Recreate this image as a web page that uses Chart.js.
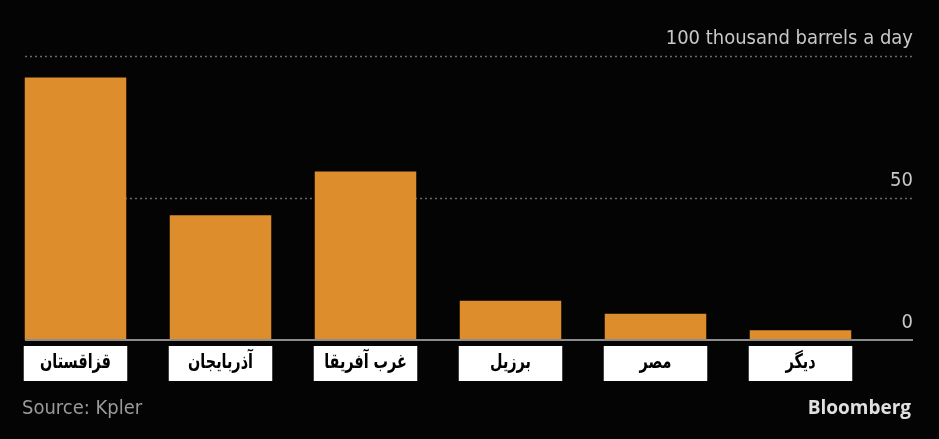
<!DOCTYPE html>
<html>
<head>
<meta charset="utf-8">
<script src="https://cdn.jsdelivr.net/npm/chart.js@4"></script>
<style>
  html, body { margin: 0; padding: 0; background: #040404; }
  canvas { display: block; }
</style>
</head>
<body>
<canvas id="chart" width="939" height="439"></canvas>
<script>
const categories = ['قزاقستان', 'آذربایجان', 'غرب آفریقا', 'برزیل', 'مصر', 'دیگر'];
const barrels = [92.4, 43.9, 59.3, 13.8, 9.2, 3.4];
const yTicks = [0, 50, 100];
const yTickLabels = ['0', '50', '100 thousand barrels a day'];
const sourceText = 'Source: Kpler';
const brandText = 'Bloomberg';

const RIGHT_EDGE = 913;
const GRID_LEFT = 25;

// grid, labels, boxes and footer drawn by hand around the bars
const overlay = {
  id: 'overlay',
  beforeDatasetsDraw(chart) {
    const ctx = chart.ctx;
    const y = chart.scales.y;
    ctx.save();
    ctx.strokeStyle = '#6a6a6a';
    ctx.lineWidth = 1.5;
    ctx.setLineDash([2, 3]);
    yTicks.forEach(v => {
      if (v === 0) return;
      const py = Math.round(y.getPixelForValue(v)) + 0.5;
      ctx.beginPath();
      ctx.moveTo(GRID_LEFT, py);
      ctx.lineTo(RIGHT_EDGE, py);
      ctx.stroke();
    });
    ctx.setLineDash([]);
    ctx.fillStyle = '#c8c8c8';
    ctx.font = '20px "DejaVu Sans Condensed", "DejaVu Sans", sans-serif';
    ctx.textAlign = 'right';
    ctx.textBaseline = 'alphabetic';
    yTicks.forEach((v, i) => {
      ctx.fillText(yTickLabels[i], RIGHT_EDGE, y.getPixelForValue(v) - 12);
    });
    ctx.restore();
  },
  afterDatasetsDraw(chart) {
    const ctx = chart.ctx;
    const y = chart.scales.y;
    const zero = y.getPixelForValue(0);
    ctx.save();
    ctx.strokeStyle = '#8c8c8c';
    ctx.lineWidth = 2;
    ctx.beginPath();
    ctx.moveTo(GRID_LEFT, zero);
    ctx.lineTo(RIGHT_EDGE, zero);
    ctx.stroke();

    const bars = chart.getDatasetMeta(0).data;
    bars.forEach((bar, i) => {
      const w = bar.width + 2;
      ctx.fillStyle = '#ffffff';
      ctx.fillRect(bar.x - w / 2, zero + 6, w, 35);
      // the original labels are tall and narrow, so stretch a little
      ctx.save();
      ctx.translate(bar.x, zero + 23);
      ctx.scale(1, 1.25);
      ctx.font = 'bold 16px "DejaVu Sans Condensed", "DejaVu Sans", sans-serif';
      ctx.textAlign = 'center';
      ctx.textBaseline = 'middle';
      ctx.direction = 'rtl';
      ctx.fillStyle = '#000000';
      ctx.fillText(categories[i], 0, 0);
      ctx.restore();
    });

    ctx.textAlign = 'left';
    ctx.textBaseline = 'middle';
    ctx.fillStyle = '#9a9a9a';
    ctx.font = '20px "DejaVu Sans Condensed", "DejaVu Sans", sans-serif';
    ctx.fillText(sourceText, 22, 409);
    ctx.textAlign = 'right';
    ctx.fillStyle = '#e0e0e0';
    ctx.font = 'bold 19px "Open Sans", sans-serif';
    ctx.fillText(brandText, RIGHT_EDGE - 2, 409);
    ctx.restore();
  }
};

new Chart(document.getElementById('chart'), {
  type: 'bar',
  data: {
    labels: categories,
    datasets: [{
      data: barrels,
      backgroundColor: '#dd8d2b',
      borderWidth: 0,
      categoryPercentage: 1,
      barPercentage: 0.7,
    }],
  },
  options: {
    responsive: false,
    animation: false,
    layout: { padding: { left: 3, right: 66, top: 56, bottom: 99 } },
    scales: {
      x: { display: false },
      y: { display: false, min: 0, max: 100 },
    },
    plugins: {
      legend: { display: false },
      tooltip: { enabled: false },
    },
  },
  plugins: [overlay],
});
</script>
</body>
</html>
